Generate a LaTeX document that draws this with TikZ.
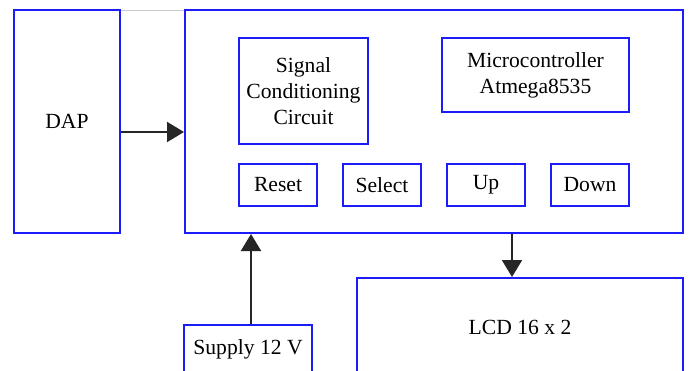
\documentclass[tikz,border=0pt]{standalone}
\usepackage{fontspec}
\setmainfont{Liberation Serif}
\usetikzlibrary{arrows.meta}
\definecolor{boxblue}{RGB}{28,28,250}
\begin{document}
\begin{tikzpicture}[x=1pt, y=-1pt,
  blk/.style={draw=boxblue, line width=2pt, rectangle, inner sep=0pt,
    align=center, font=\fontsize{21.6}{26}\selectfont},
  arr/.style={line width=2pt, draw=black!85, -{Triangle[length=17pt,width=20pt]}}]
  \useasboundingbox (0,0) rectangle (690,371);
  \clip (0,0) rectangle (690,371);
  \fill[white] (0,0) rectangle (690,371);
  % faint frame edge between the two top blocks
  \draw[black!20, line width=0.8pt] (120,10) -- (185,10);
  % outer blocks
  \node[blk, minimum width=106pt, minimum height=223pt] (dap) at (67,121.5) {DAP};
  \node[blk, minimum width=498pt, minimum height=223pt] (main) at (434,121.5) {};
  % blocks inside the controller board
  \node[blk, minimum width=129pt, minimum height=106pt] (sig) at (303.5,91) {Signal\\Conditioning\\Circuit};
  \node[blk, minimum width=187pt, minimum height=74pt] (mcu) at (535.5,75) {Microcontroller\\Atmega8535};
  \node[blk, minimum width=78pt, minimum height=42pt] (reset) at (278,185) {Reset};
  \node[blk, minimum width=78pt, minimum height=42pt] (select) at (382,185) {Select};
  \node[blk, minimum width=78pt, minimum height=42pt] (up) at (486,185) {Up};
  \node[blk, minimum width=78pt, minimum height=42pt] (down) at (590,185) {Down};
  % lower blocks
  \node[blk, minimum width=326pt, minimum height=98pt] (lcd) at (520,327) {LCD 16 x 2};
  \node[blk, minimum width=128pt, minimum height=48pt] (sup) at (248,349) {Supply 12 V};
  % connections
  \draw[arr] ([yshift=-10.5pt]dap.east) -- ([yshift=-10.5pt]dap.east -| main.west);
  \draw[arr] ([xshift=3pt]sup.north) -- ([xshift=3pt]sup.north |- main.south);
  \draw[arr] ([xshift=-8pt]lcd.north |- main.south) -- ([xshift=-8pt]lcd.north);
\end{tikzpicture}
\end{document}
